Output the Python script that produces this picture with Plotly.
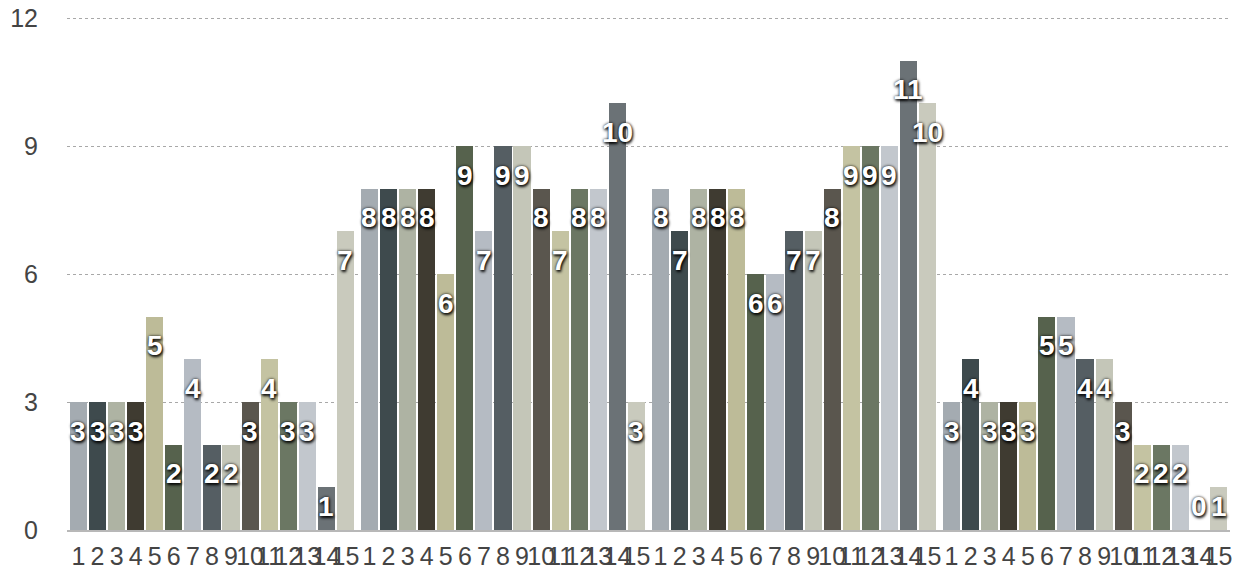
import plotly.graph_objects as go

# Fifteen series, four groups; each bar's label is its series number
series_labels = [str(i) for i in range(1, 16)]

group1 = [3, 3, 3, 3, 5, 2, 4, 2, 2, 3, 4, 3, 3, 1, 7]
group2 = [8, 8, 8, 8, 6, 9, 7, 9, 9, 8, 7, 8, 8, 10, 3]
group3 = [8, 7, 8, 8, 8, 6, 6, 7, 7, 8, 9, 9, 9, 11, 10]
group4 = [3, 4, 3, 3, 3, 5, 5, 4, 4, 3, 2, 2, 2, 0, 1]
groups = [group1, group2, group3, group4]

# Stone-like tones, one per series
stone_colors = [
    "#a4abb1", "#3e4a4d", "#aeb3a3", "#3f3b31", "#bdbb98",
    "#56624d", "#b5bbc3", "#555e63", "#c4c6b8", "#5a564e",
    "#c4c3a2", "#6b7763", "#c2c7cd", "#6b7276", "#c9cabd",
]

GROUP_STEP = 15.26  # slots per group, including the small gap between groups

x_pos, y_val, colors, tick_text = [], [], [], []
for g, values in enumerate(groups):
    for i, v in enumerate(values):
        x_pos.append(g * GROUP_STEP + i)
        y_val.append(v)
        colors.append(stone_colors[i])
        tick_text.append(series_labels[i])

fig = go.Figure()
fig.add_trace(go.Bar(
    x=x_pos,
    y=y_val,
    width=0.9,
    marker=dict(color=colors, line=dict(width=0)),
    hoverinfo="y",
))

# value labels sitting just inside the top of each bar
label_font = dict(family="Liberation Sans, Arial, sans-serif", size=28,
                  color="white", weight=600,
                  shadow="1px 2px 3px rgba(0,0,0,0.95), 0px 0px 3px rgba(0,0,0,0.9)")
for x, v in zip(x_pos, y_val):
    fig.add_annotation(
        x=x, y=max(v - 0.68, 0.54), text=str(v), showarrow=False,
        xanchor="center", yanchor="middle", font=label_font,
    )

axis_font = dict(family="Liberation Sans, Arial, sans-serif", size=25, color="#444444")

fig.update_layout(
    width=1236, height=571,
    margin=dict(l=67, r=6, t=16, b=41, autoexpand=False),
    paper_bgcolor="white", plot_bgcolor="white",
    showlegend=False,
    bargap=0,
    xaxis=dict(
        range=[-0.6, 3 * GROUP_STEP + 14 + 0.6],
        tickmode="array", tickvals=x_pos, ticktext=tick_text,
        tickfont=axis_font, tickangle=0, ticks="", ticklabelstandoff=3,
        automargin=False,
        showgrid=False, zeroline=False,
        showline=True, linecolor="#b8b8b8", linewidth=2,
        fixedrange=True,
    ),
    yaxis=dict(
        range=[0, 12.05], tickvals=[0, 3, 6, 9, 12],
        tickfont=axis_font, ticks="", ticklabelstandoff=28,
        automargin=False,
        showgrid=True, gridcolor="#a8a8a8", gridwidth=1, griddash="dot",
        zeroline=False, showline=False, fixedrange=True,
    ),
)

fig.write_html("out.html")
